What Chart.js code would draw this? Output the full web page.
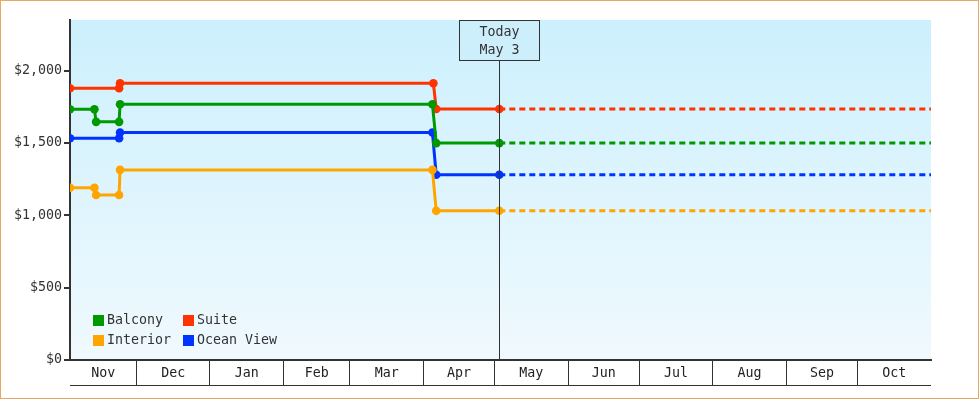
<!DOCTYPE html>
<html>
<head>
<meta charset="utf-8">
<script src="https://cdn.jsdelivr.net/npm/chart.js@4/dist/chart.umd.min.js"></script>
<style>
  body { margin: 0; background: #fff; }
  canvas { display: block; }
</style>
</head>
<body>
<canvas id="myChart" width="980" height="400"></canvas>
<script>
// days counted from Nov 1
var monthNames = ["Nov", "Dec", "Jan", "Feb", "Mar", "Apr", "May", "Jun", "Jul", "Aug", "Sep", "Oct"];
var monthStarts = [0, 30, 61, 92, 120, 151, 181, 212, 242, 273, 304, 334, 365];
var dayMin = 2;
var dayMax = 365;
var todayDay = 183;
var todayLabel = ["Today", "May 3"];
var yTicks = [0, 500, 1000, 1500, 2000];
var yMax = 2350;

var balconyDays = [2, 12.3, 13, 22.7, 23.1, 154.8, 156.4, 183, 365];
var balconyPrices = [1733, 1733, 1646, 1646, 1768, 1768, 1499, 1499, 1499];
var suiteDays = [2, 22.7, 23.1, 155.2, 156.4, 183, 365];
var suitePrices = [1878, 1878, 1913, 1913, 1735, 1735, 1735];
var interiorDays = [2, 12.3, 13, 22.7, 23.1, 154.8, 156.4, 183, 365];
var interiorPrices = [1190, 1190, 1140, 1140, 1314, 1314, 1031, 1031, 1031];
var oceanDays = [2, 22.7, 23.1, 154.8, 156.4, 183, 365];
var oceanPrices = [1533, 1533, 1572, 1572, 1280, 1280, 1280];

var fontFamily = "'DejaVu Sans Mono', monospace";
var fontSize = 13.3;
var textColor = "#333";

function toPoints(days, prices) {
  var pts = [];
  for (var i = 0; i < days.length; i++) pts.push({ x: days[i], y: prices[i] });
  return pts;
}

function series(label, color, days, prices) {
  return {
    label: label,
    data: toPoints(days, prices),
    borderColor: color,
    backgroundColor: color,
    borderWidth: 3,
    pointRadius: function (c) { return c.raw && c.raw.x >= dayMax ? 0 : 4.3; },
    pointHoverRadius: 4.3,
    pointBorderWidth: 0,
    tension: 0,
    segment: {
      borderDash: function (c) { return c.p0.parsed.x >= todayDay ? [6, 4] : undefined; }
    }
  };
}

// month boundary ticks (interior only) and mid-month label ticks
var xTickList = [];
for (var m = 0; m < monthNames.length; m++) {
  if (m > 0) xTickList.push({ value: monthStarts[m], kind: "line" });
  var a = Math.max(monthStarts[m], dayMin), b = Math.min(monthStarts[m + 1], dayMax);
  xTickList.push({ value: (a + b) / 2, kind: "label", name: monthNames[m] });
}

var decorPlugin = {
  id: "decor",
  beforeDraw: function (chart) {
    var ctx = chart.ctx, ca = chart.chartArea;
    ctx.save();
    var g = ctx.createLinearGradient(0, ca.top, 0, ca.bottom);
    g.addColorStop(0, "#ccf0fd");
    g.addColorStop(1, "#f0f9fe");
    ctx.fillStyle = g;
    ctx.fillRect(ca.left, ca.top, ca.right - ca.left, ca.bottom - ca.top);
    ctx.restore();
  },
  afterDraw: function (chart) {
    var ctx = chart.ctx, ca = chart.chartArea, xs = chart.scales.x;
    ctx.save();
    // bottom line under month labels
    ctx.strokeStyle = textColor;
    ctx.lineWidth = 1;
    ctx.beginPath();
    ctx.moveTo(ca.left, xs.bottom + 0.5);
    ctx.lineTo(ca.right, xs.bottom + 0.5);
    ctx.stroke();

    // today marker
    var tx = Math.round(xs.getPixelForValue(todayDay)) + 0.5;
    var bw = 80, bh = 40, by = ca.top + 0.5;
    ctx.beginPath();
    ctx.moveTo(tx, by + bh);
    ctx.lineTo(tx, ca.bottom);
    ctx.stroke();
    ctx.fillStyle = "#cdeffc";
    ctx.fillRect(tx - bw / 2, by, bw, bh);
    ctx.strokeRect(tx - bw / 2, by, bw, bh);
    ctx.fillStyle = textColor;
    ctx.font = fontSize + "px " + fontFamily;
    ctx.textAlign = "center";
    ctx.textBaseline = "middle";
    ctx.fillText(todayLabel[0], tx, by + 12);
    ctx.fillText(todayLabel[1], tx, by + 30);

    // legend, 2 columns inside plot
    var ds = chart.data.datasets;
    ctx.textAlign = "left";
    for (var i = 0; i < ds.length; i++) {
      var lx = ca.left + 23 + (i % 2) * 90;
      var ly = ca.bottom - 45 + Math.floor(i / 2) * 20;
      ctx.fillStyle = ds[i].borderColor;
      ctx.fillRect(lx, ly, 11, 11);
      ctx.fillStyle = textColor;
      ctx.fillText(ds[i].label, lx + 14, ly + 6);
    }

    // outer frame
    ctx.strokeStyle = "#e8a862";
    ctx.strokeRect(0.5, 0.5, 978, 398);
    ctx.restore();
  }
};

var chart = new Chart(document.getElementById("myChart"), {
  type: "line",
  data: {
    datasets: [
      series("Balcony", "#009900", balconyDays, balconyPrices),
      series("Suite", "#ff3300", suiteDays, suitePrices),
      series("Interior", "#ffa500", interiorDays, interiorPrices),
      series("Ocean View", "#0033ff", oceanDays, oceanPrices)
    ]
  },
  options: {
    responsive: false,
    animation: false,
    layout: { padding: { left: 0, top: 20, right: 49, bottom: 15 } },
    plugins: { legend: { display: false }, tooltip: { enabled: false } },
    scales: {
      x: {
        type: "linear",
        min: dayMin,
        max: dayMax,
        afterBuildTicks: function (scale) {
          scale.ticks = xTickList.map(function (t) { return { value: t.value }; });
        },
        afterFit: function (scale) { scale.height = 25; },
        border: { display: true, color: textColor, width: 2 },
        grid: {
          drawOnChartArea: false,
          drawTicks: true,
          tickLength: 25,
          lineWidth: 1,
          color: function (c) {
            var t = xTickList[c.index];
            return t && t.kind === "line" ? textColor : "rgba(0,0,0,0)";
          }
        },
        ticks: {
          autoSkip: false,
          maxRotation: 0,
          padding: -19,
          color: "#222",
          font: { family: fontFamily, size: fontSize },
          callback: function (v, i) {
            var t = xTickList[i];
            return t && t.kind === "label" ? t.name : "";
          }
        }
      },
      y: {
        min: 0,
        max: yMax,
        afterBuildTicks: function (scale) {
          scale.ticks = yTicks.map(function (v) { return { value: v }; });
        },
        afterFit: function (scale) { scale.width = 70; },
        border: { display: true, color: textColor, width: 2 },
        grid: { drawOnChartArea: false, drawTicks: true, tickLength: 6, color: textColor, lineWidth: 2 },
        ticks: {
          padding: 2,
          color: textColor,
          font: { family: fontFamily, size: fontSize },
          callback: function (v) { return "$" + v.toLocaleString("en-US"); }
        }
      }
    }
  },
  plugins: [decorPlugin]
});
</script>
</body>
</html>
